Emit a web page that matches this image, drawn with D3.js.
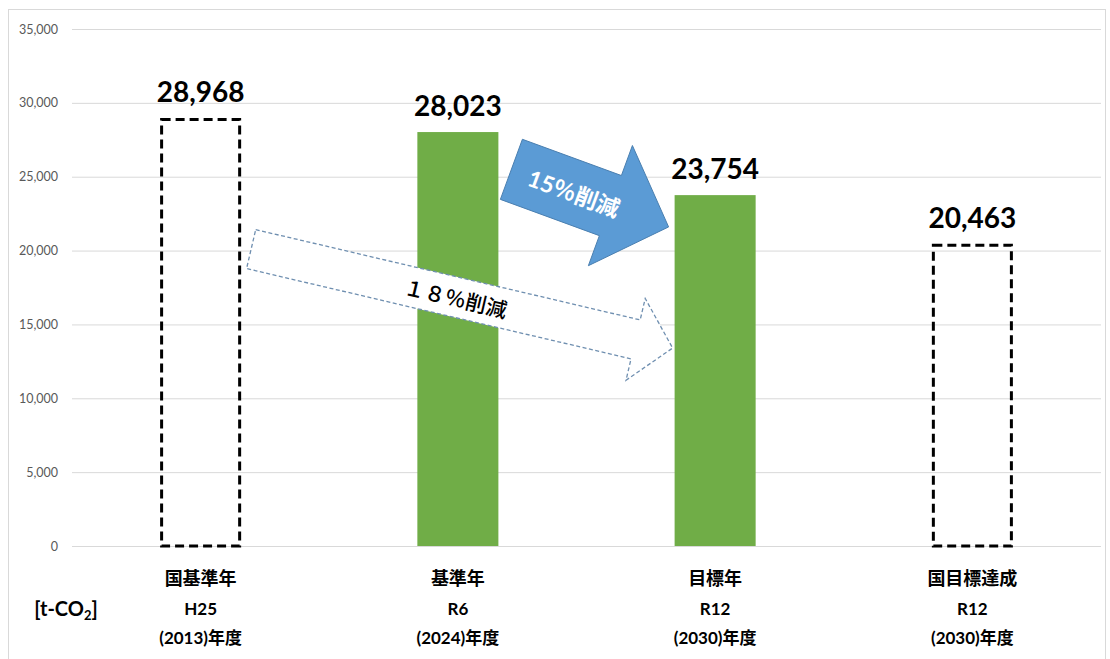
<!DOCTYPE html>
<html>
<head>
<meta charset="utf-8">
<script src="https://cdn.jsdelivr.net/npm/d3@7"></script>
<style>
  body { margin: 0; background: #fff; }
  text { font-family: Lato, "Noto Sans CJK JP", sans-serif; }
</style>
</head>
<body>
<svg id="chart" width="1110" height="659"></svg>
<script>
// Emissions by year (t-CO2)
const categories = ["国基準年", "基準年", "目標年", "国目標達成"];
const eraLabels = ["H25", "R6", "R12", "R12"];
const yearLabels = ["(2013)年度", "(2024)年度", "(2030)年度", "(2030)年度"];
const values = [28968, 28023, 23754, 20463];
const outlined = [true, false, false, true];   // reference / target bars drawn as dashed outlines
const yTicks = [0, 5000, 10000, 15000, 20000, 25000, 30000, 35000];

const svg = d3.select("#chart");
const W = 1110, H = 659;
const margin = { left: 72, right: 9, top: 29, bottom: 113 };

// chart frame
svg.append("rect")
  .attr("x", 8.5).attr("y", 9.5)
  .attr("width", 1097).attr("height", 660)
  .attr("fill", "none").attr("stroke", "#d9d9d9");

const x = d3.scaleBand()
  .domain(categories)
  .range([margin.left, W - margin.right])
  .paddingInner(0.685)
  .paddingOuter(0.3425);

const y = d3.scaleLinear()
  .domain([0, 35000])
  .range([H - margin.bottom, margin.top]);

// gridlines + tick labels
const yAxis = d3.axisLeft(y)
  .tickValues(yTicks)
  .tickSize(-(W - margin.right - margin.left))
  .tickPadding(14)
  .tickFormat(d3.format(","));

const gy = svg.append("g")
  .attr("transform", `translate(${margin.left},0)`)
  .call(yAxis);
gy.select(".domain").remove();
gy.selectAll(".tick line").attr("stroke", "#d9d9d9").attr("stroke-width", 1);
gy.selectAll(".tick text")
  .attr("fill", "#595959")
  .style("font-size", "12.5px")
  .attr("font-family", "Lato, sans-serif");

// bars
const bars = categories.map((c, i) => ({ c, v: values[i], outline: outlined[i] }));
svg.append("g").selectAll("rect")
  .data(bars)
  .join("rect")
  .attr("x", d => x(d.c) + (d.outline ? 1.5 : 0))
  .attr("y", d => y(d.v) + (d.outline ? 1.5 : 0))
  .attr("width", d => x.bandwidth() - (d.outline ? 3 : 0))
  .attr("height", d => y(0) - y(d.v) - (d.outline ? 1.5 : 0))
  .attr("fill", d => d.outline ? "none" : "#70ad47")
  .attr("stroke", d => d.outline ? "#000" : "none")
  .attr("stroke-width", 3)
  .attr("stroke-dasharray", d => d.outline ? "9,5" : null);

// value labels
svg.append("g").selectAll("text")
  .data(bars)
  .join("text")
  .attr("x", d => x(d.c) + x.bandwidth() / 2)
  .attr("y", d => y(d.v) - 16)
  .attr("text-anchor", "middle")
  .style("font-size", "28px")
  .style("font-weight", "bold")
  .attr("fill", "#000")
  .text(d => d3.format(",")(d.v));

// category labels
const gx = svg.append("g");
categories.forEach((c, i) => {
  const cx = x(c) + x.bandwidth() / 2;
  [[c, 585, 18], [eraLabels[i], 615, 17], [yearLabels[i], 644, 17]].forEach(([t, ty, fs]) => {
    gx.append("text")
      .attr("x", cx).attr("y", ty)
      .attr("text-anchor", "middle")
      .style("font-size", fs + "px")
      .style("font-weight", "bold")
      .attr("fill", "#000")
      .text(t);
  });
});

// unit label
const unit = svg.append("text")
  .attr("x", 66).attr("y", 616)
  .attr("text-anchor", "middle")
  .style("font-size", "20px")
  .style("font-weight", "bold")
  .attr("fill", "#000");
unit.append("tspan").text("[t-CO");
unit.append("tspan").text("2").style("font-size", "13px").attr("dy", 4);
unit.append("tspan").text("]").attr("dy", -4);

// block arrow along an axis from tail to tip
function blockArrow(tail, tip, bodyHalf, headHalf, headLen) {
  const dx = tip[0] - tail[0], dy = tip[1] - tail[1];
  const len = Math.hypot(dx, dy);
  const ux = dx / len, uy = dy / len, nx = -uy, ny = ux;
  const pt = (a, b) => [tail[0] + ux * a + nx * b, tail[1] + uy * a + ny * b];
  const L = len - headLen;
  return [pt(0, -bodyHalf), pt(L, -bodyHalf), pt(L, -headHalf), pt(len, 0),
          pt(L, headHalf), pt(L, bodyHalf), pt(0, bodyHalf)];
}
const line = d3.line().curve(d3.curveLinearClosed);

// 18% reduction: from reference year to target year
const tipX3 = x(categories[2]) - 2;
const dashTail = [x(categories[0]) + x.bandwidth() + 10, y(20100)];
const dashTip = [tipX3, y(13400)];
svg.append("path")
  .attr("d", line(blockArrow(dashTail, dashTip, 20, 42, 38)))
  .attr("fill", "#fff")
  .attr("stroke", "#6f8fb0")
  .attr("stroke-width", 1.3)
  .attr("stroke-dasharray", "4,2.5");

const dAng = Math.atan2(dashTip[1] - dashTail[1], dashTip[0] - dashTail[0]) * 180 / Math.PI;
svg.append("text")
  .attr("transform", `translate(455,301) rotate(${dAng})`)
  .attr("text-anchor", "middle")
  .attr("dominant-baseline", "middle")
  .style("font-size", "21px")
  .style("font-weight", "500")
  .attr("fill", "#000")
  .text("１８％削減");

// 15% reduction: from base year to target year
const blueTail = [x(categories[1]) + x.bandwidth() + 13, y(25500)];
const blueTip = [x(categories[2]) - 6, y(21600)];
svg.append("path")
  .attr("d", line(blockArrow(blueTail, blueTip, 32, 64, 62)))
  .attr("fill", "#5b9bd5")
  .attr("stroke", "#4a7fb0")
  .attr("stroke-width", 1);

const bAng = Math.atan2(blueTip[1] - blueTail[1], blueTip[0] - blueTail[0]) * 180 / Math.PI;
svg.append("text")
  .attr("transform", `translate(573,196) rotate(${bAng})`)
  .attr("text-anchor", "middle")
  .attr("dominant-baseline", "middle")
  .style("font-size", "23px")
  .style("font-weight", "bold")
  .attr("fill", "#fff")
  .text("15％削減");
</script>
</body>
</html>
